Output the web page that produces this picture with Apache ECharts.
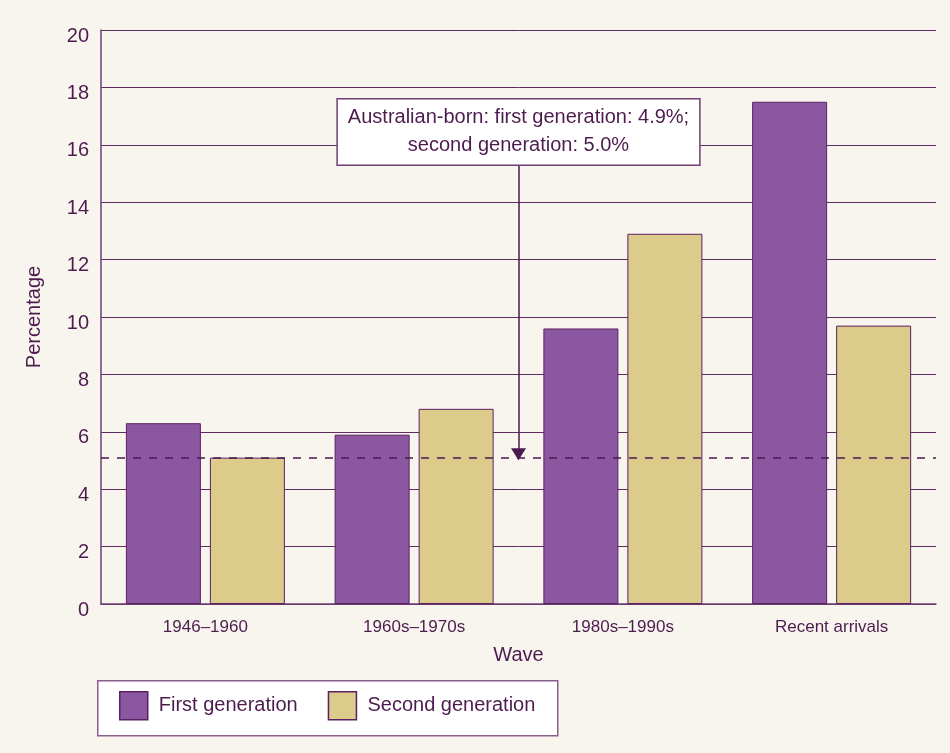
<!DOCTYPE html>
<html><head><meta charset="utf-8">
<script src="https://cdn.jsdelivr.net/npm/echarts@6/dist/echarts.min.js"></script>
<style>html,body{margin:0;padding:0;background:#f8f5ee}#c{width:950px;height:753px}</style>
</head><body><div id="c"></div>
<script>
const categories = ['1946–1960', '1960s–1970s', '1980s–1990s', 'Recent arrivals'];
const firstGen = [6.3, 5.9, 9.6, 17.5];
const secondGen = [5.1, 6.8, 12.9, 9.7];
const seriesNames = ['First generation', 'Second generation'];
const refLine = 5.1;
const noteText = ['Australian-born: first generation: 4.9%;', 'second generation: 5.0%'];
const noteAt = [2, 16.45];
const arrowFrom = [2, 15.3];
const arrowTo = [2, 5.22];

const ink = '#4d1c4f';
const grid = '#5e2c60';
const chart = echarts.init(document.getElementById('c'));
chart.setOption({
  backgroundColor: '#f8f5ee',
  animation: false,
  textStyle: { fontFamily: 'Liberation Sans, Arial, sans-serif', color: ink },
  grid: { left: 101, right: 14, top: 30, bottom: 149 },
  legend: {
    left: 119, top: 691, padding: 0, itemWidth: 28, itemHeight: 28, itemGap: 30,
    icon: 'rect',
    itemStyle: { borderColor: '#5a2060', borderWidth: 1.5 },
    textStyle: { fontSize: 20, color: ink, padding: [0, 0, 10, 6] },
    data: seriesNames
  },
  graphic: [{
    type: 'rect', left: 97, top: 680, z: -1,
    shape: { width: 460, height: 55 },
    style: { fill: '#ffffff', stroke: '#8a5f8e', lineWidth: 1.5 }
  }],
  xAxis: [{
    type: 'category', data: categories,
    axisLine: { lineStyle: { color: '#6e3f72', width: 1.5 } },
    axisTick: { inside: true, length: 14, lineStyle: { color: '#6e3f72', width: 1.5 } },
    axisLabel: { fontSize: 17, color: ink, margin: 15 },
    name: 'Wave', nameLocation: 'middle', nameGap: 41,
    nameTextStyle: { fontSize: 20, color: ink }
  }, {
    type: 'value', min: 0, max: 4, show: false
  }],
  yAxis: {
    type: 'value', min: 0, max: 20, interval: 2,
    axisLine: { show: true, lineStyle: { color: '#6e3f72', width: 1.5 } },
    axisTick: { show: false },
    splitLine: { lineStyle: { color: grid, width: 1 } },
    axisLabel: { fontSize: 20, color: ink, margin: 12, verticalAlign: 'top', lineHeight: 12 },
    name: 'Percentage', nameLocation: 'middle', nameGap: 57,
    nameTextStyle: { fontSize: 20, color: ink }
  },
  series: [{
    name: seriesNames[0], type: 'bar', data: firstGen, barWidth: 75, barGap: '12%',
    itemStyle: { color: '#8c57a1', borderColor: '#5a2060', borderWidth: 1 }, silent: true
  }, {
    name: seriesNames[1], type: 'bar', data: secondGen, barWidth: 75,
    itemStyle: { color: '#dccb8a', borderColor: '#5a2060', borderWidth: 1 }, silent: true
  }, {
    type: 'scatter', xAxisIndex: 1, data: [], silent: true, z: 5,
    markLine: {
      silent: true, animation: false,
      label: { show: false },
      data: [
        [{ coord: [0, refLine], symbol: 'none' }, { coord: [4, refLine], symbol: 'none', lineStyle: { type: [8, 8], color: '#4b1850', width: 1.5 } }],
        [{ coord: arrowFrom, symbol: 'none' }, { coord: arrowTo, symbol: 'triangle', symbolSize: [15, 12], symbolRotate: 180, lineStyle: { type: 'solid', color: '#4b1850', width: 1.5 } }]
      ]
    },
    markPoint: {
      silent: true, symbol: 'rect', symbolSize: 1, itemStyle: { color: 'rgba(0,0,0,0)' },
      data: [{ coord: noteAt }],
      label: {
        show: true, position: 'inside', formatter: noteText.join('\n'),
        fontSize: 20, lineHeight: 28, color: ink, align: 'center',
        backgroundColor: '#ffffff', borderColor: '#6e3f72', borderWidth: 1.5,
        padding: [5, 10, 4, 10]
      }
    }
  }]
});
</script></body></html>
